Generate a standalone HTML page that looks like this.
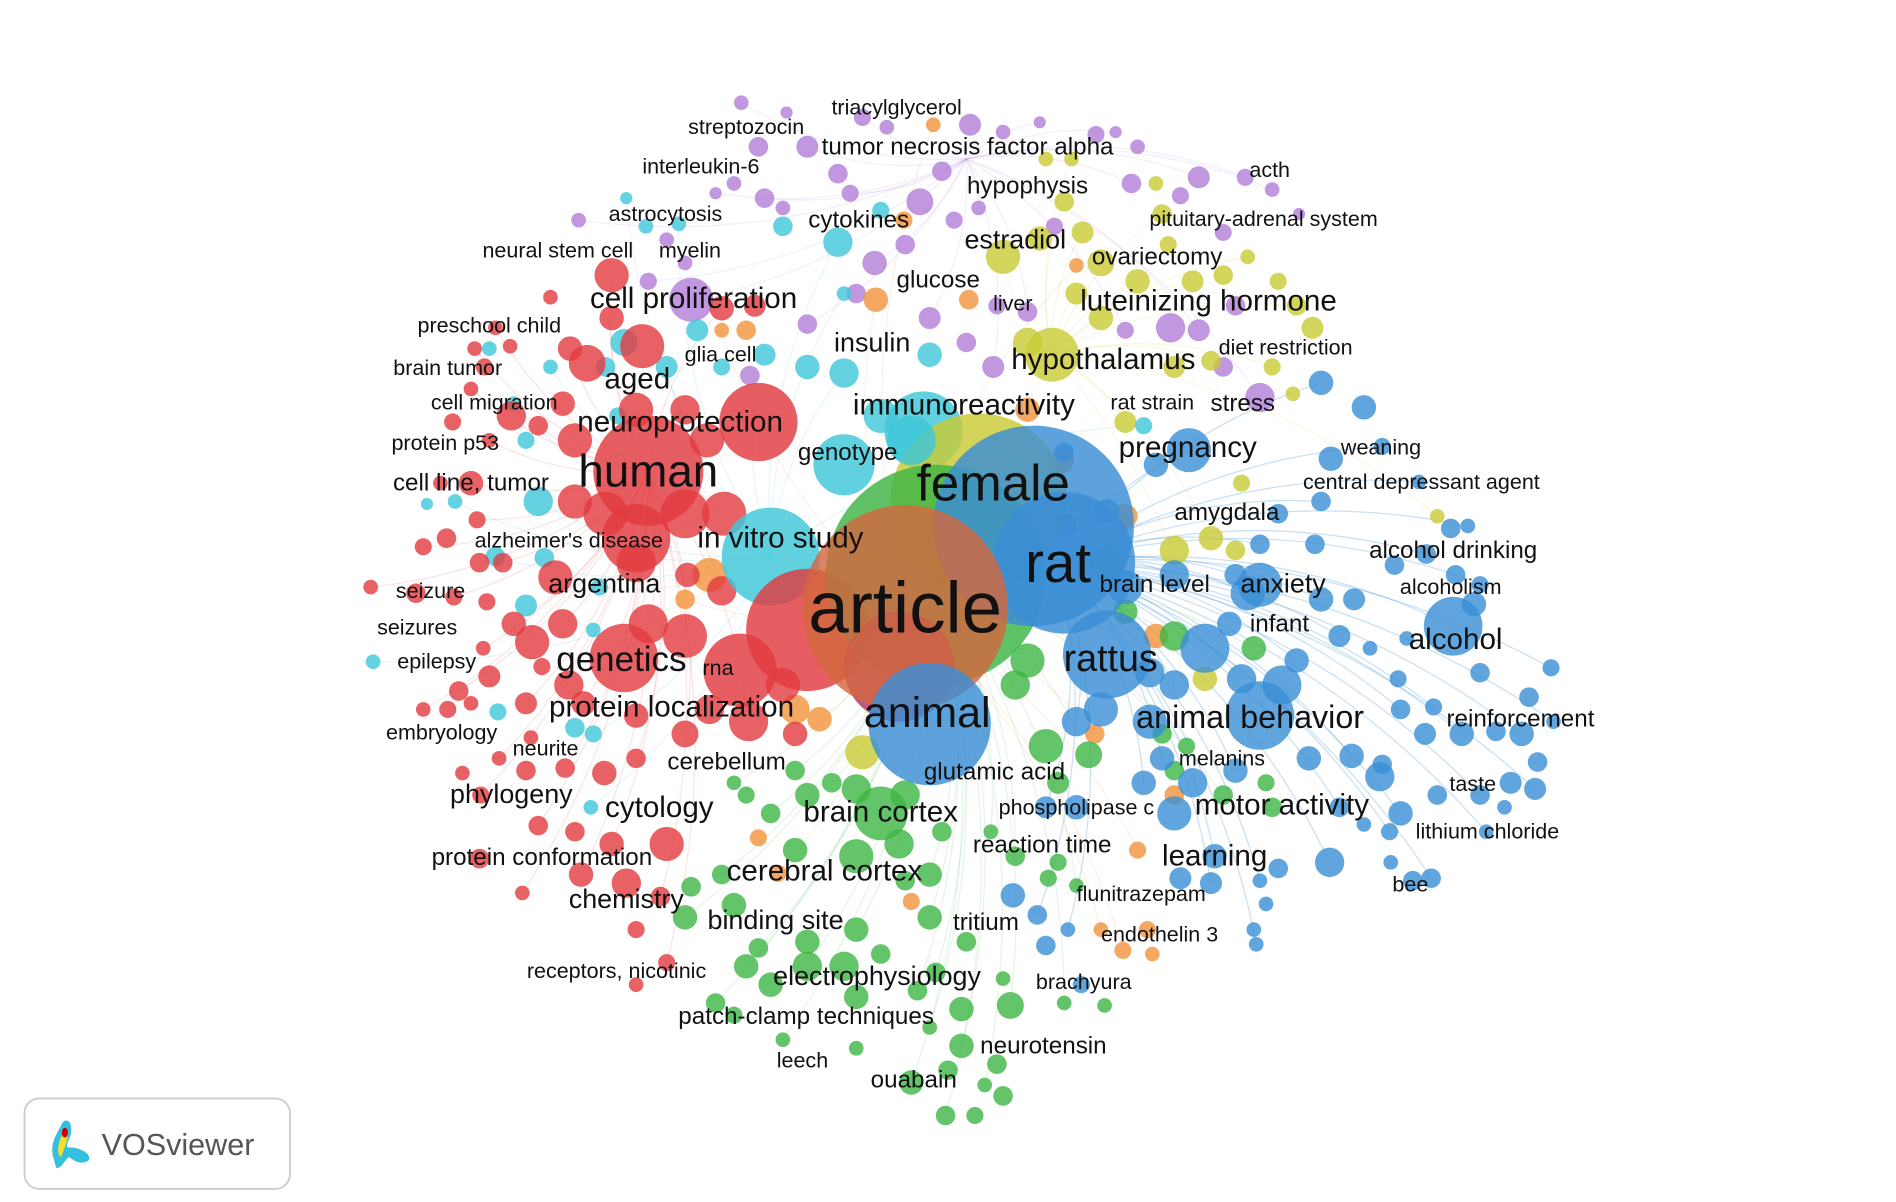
<!DOCTYPE html>
<html><head><meta charset="utf-8"><style>
html,body{margin:0;padding:0;background:#fff;width:1896px;height:1202px;overflow:hidden}
svg{display:block}
.lbl{font-family:"Liberation Sans","DejaVu Sans",sans-serif;fill:#111;text-anchor:middle;dominant-baseline:central}
</style></head><body>
<svg id="net" width="1896" height="1202" viewBox="0 0 1550 982.7" xmlns="http://www.w3.org/2000/svg">
<g id="edges"></g>
<g id="small"></g>
<g id="big"></g>
<g id="labels"></g>
<g>
<rect x="20" y="898" width="217" height="74" rx="12" fill="#fff" stroke="#ccc" stroke-width="1.5"/>
<path d="M44,948 C40,935 46,928 50,920 C52,914 58,915 58,922 C59,930 54,933 55,938 C58,938 62,938 66,940 C72,942 76,948 70,950 C64,952 60,948 56,946 C52,950 50,955 46,955 Z" fill="#35c0e0"/>
<path d="M48,944 C46,936 50,930 52,925 C54,922 56,926 55,931 C54,936 52,940 50,946 Z" fill="#f0e030"/>
<ellipse cx="53" cy="926" rx="2.5" ry="4" fill="#d00000"/>
<text x="83" y="936" font-family="Liberation Sans, sans-serif" font-size="25" fill="#555" dominant-baseline="central">VOSviewer</text>
</g>
</svg>
<script>
// cluster colours
const clusterColors = {r:"#e23b3f",g:"#3db544",b:"#3a8ed6",y:"#c9cb35",p:"#b27ed8",c:"#3ec7d9",o:"#f3923a",m:"#b0336a"};
// small unlabeled nodes per cluster: "x,y,r;..."
const purpleNodes = "606,84,6;643,92,5;705,96,7;725,104,6;793,102,9;820,108,6;850,100,5;896,110,7;912,108,5;620,120,8;660,120,9;685,142,8;695,158,7;640,170,6;625,162,8;600,150,6;585,158,5;752,165,11;770,140,8;780,180,7;800,170,6;740,200,8;715,215,10;700,240,8;760,260,9;790,280,8;812,300,9;930,120,6;925,150,8;965,160,7;980,145,9;1000,190,7;1018,145,7;1062,175,5;1040,155,6;957,268,12;980,270,9;1010,250,8;1030,325,12;1000,300,8;920,270,7;613,307,8;660,265,8;560,215,6;473,180,6;545,196,6;530,230,7;815,250,7;840,255,8;862,185,7;565,245,18";
const yellowNodes = "820,210,14;850,195,10;885,190,9;900,215,11;930,230,10;955,200,7;975,230,9;1000,225,8;1020,210,6;1045,230,7;1060,250,8;1073,268,9;1040,300,7;1057,322,6;990,295,8;960,300,9;880,240,9;900,260,10;870,165,8;855,130,6;876,130,6;840,280,12;950,175,8;945,150,6;1175,422,6;1010,450,8;990,440,10;960,450,12;985,555,10;705,615,14;920,345,9;1015,395,7;860,290,22";
const cyanNodes = "512,162,5;528,185,6;555,183,6;640,185,8;685,198,12;720,172,7;690,240,6;570,270,9;510,280,11;495,300,8;545,300,9;590,300,7;625,290,9;660,300,10;690,305,12;720,340,14;450,300,6;400,285,6;420,330,6;430,360,7;440,410,12;430,495,9;405,455,8;445,456,8;372,410,6;349,412,5;305,541,6;407,582,7;490,480,7;485,515,6;485,600,7;470,595,8;483,660,6;760,290,10;935,348,7;505,340,7";
const orangeNodes = "763,102,6;739,180,7;716,245,10;792,245,8;880,217,6;610,270,8;590,270,6;840,335,10;868,377,10;920,422,10;945,520,10;580,470,14;560,490,8;650,580,12;670,588,10;620,685,7;636,714,7;745,737,7;930,695,7;938,760,7;918,777,7;942,780,6;900,760,6;960,650,8;895,600,8";
const redNodes = "500,225,14;450,243,6;405,268,6;417,283,6;388,285,6;396,300,7;466,285,10;480,297,15;500,260,10;525,283,18;590,252,10;617,250,9;385,318,6;370,345,7;400,360,6;418,340,12;440,348,8;460,330,10;470,360,14;520,335,14;560,335,12;578,360,14;592,420,18;560,420,20;495,420,18;470,410,14;385,395,10;360,395,6;346,447,7;365,440,8;390,425,7;392,460,8;411,460,8;454,472,14;520,460,16;562,470,10;303,480,6;340,485,8;371,488,7;398,492,7;420,510,10;435,525,14;460,510,12;465,560,12;477,575,10;443,545,7;395,530,6;400,553,9;375,565,8;366,580,7;346,580,6;385,575,6;430,575,9;434,603,6;408,620,6;378,632,6;393,650,7;430,630,8;462,628,8;494,632,10;520,620,8;520,585,10;560,600,11;580,580,12;612,590,16;640,560,14;560,520,18;530,510,16;440,675,8;470,680,8;500,690,10;545,690,14;475,715,10;512,722,12;540,733,8;520,760,7;545,787,7;520,805,6;427,730,6;392,702,8;590,483,12;650,600,10;510,538,28";
const greenNodes = "650,630,8;660,650,10;680,640,8;700,645,12;740,650,12;650,695,10;630,665,8;610,650,7;600,640,6;700,700,14;735,690,12;770,680,8;760,715,10;740,720,8;590,715,8;565,725,8;560,750,10;600,740,10;620,775,8;660,770,10;700,760,10;720,780,8;760,750,10;790,770,8;660,790,12;690,790,12;610,790,10;630,805,10;585,820,8;600,830,7;640,850,6;700,815,10;750,810,8;786,825,10;826,822,11;820,800,6;870,820,6;903,822,6;760,840,6;700,857,6;786,855,10;815,870,8;745,885,10;775,875,8;805,887,6;820,896,8;773,912,8;797,912,7;810,680,6;865,705,7;880,724,6;857,718,7;830,700,8;865,640,9;890,617,11;855,610,14;830,560,12;840,540,14;920,500,10;905,460,14;960,520,12;950,600,8;970,610,7;960,630,8;1000,650,8;1040,660,8;1025,530,10;1035,640,7;765,795,8;720,665,22";
const blueNodes = "1080,313,10;1115,333,10;1130,365,7;1088,375,10;1160,394,6;1186,432,8;1166,453,8;1140,462,8;1080,410,8;1045,420,8;1030,445,8;1075,445,8;1020,485,14;1005,510,10;1080,490,10;1107,490,9;1095,520,9;1120,530,6;1060,540,10;1048,560,16;1015,555,12;985,530,20;960,560,12;940,590,14;950,620,10;975,640,12;1010,630,10;1070,620,10;1105,618,10;1128,635,12;1145,665,10;1175,650,8;1210,650,8;1235,640,9;1255,645,9;1257,623,8;1244,600,10;1223,598,8;1195,600,10;1165,600,9;1145,580,8;1143,555,7;1172,578,7;1210,550,8;1268,546,7;1250,570,8;1270,590,6;1230,660,6;1215,680,6;1155,720,8;1170,718,8;1137,705,6;1136,680,7;1115,674,6;1087,705,12;1045,710,8;1030,720,6;1025,760,6;1027,772,6;1035,739,6;990,722,9;965,718,9;993,700,10;960,665,14;935,640,10;880,660,10;855,660,9;828,732,10;848,748,8;855,773,8;873,760,6;884,805,7;1188,512,24;1205,494,10;1190,470,8;1150,522,6;1200,430,6;1130,625,8;1095,660,8;1210,478,7;920,480,14;900,580,14;880,590,12;940,550,12;870,430,10;905,418,10;870,370,8;945,380,10;972,368,18;1010,470,9;960,470,12;1030,585,28;1030,478,18";
// major overlapping nodes: cluster, x, y, r
const majorCluster = ["c","c","c","r","r","r","r","y","g","b","b","r","m","o","b","b","c"];
const majorX = [630,755,690,530,620,660,605,800,765,845,870,520,735,740,760,905,745];
const majorY = [455,352,380,385,345,515,548,410,470,430,460,440,545,497,592,535,360];
const majorR = [40,32,25,45,32,50,30,72,90,82,58,28,45,84,50,36,20];
// labels: text, x, y, font size
const labelText = ["triacylglycerol","streptozocin","tumor necrosis factor alpha","interleukin-6","acth","hypophysis","astrocytosis","cytokines","pituitary-adrenal system","estradiol","neural stem cell","myelin","ovariectomy","glucose","cell proliferation","luteinizing hormone","liver","preschool child","insulin","glia cell","diet restriction","hypothalamus","brain tumor","aged","cell migration","immunoreactivity","rat strain","stress","neuroprotection","protein p53","genotype","pregnancy","weaning","human","female","cell line, tumor","central depressant agent","amygdala","in vitro study","alzheimer's disease","alcohol drinking","rat","brain level","anxiety","alcoholism","argentina","seizure","article","infant","seizures","alcohol","genetics","rna","rattus","epilepsy","protein localization","animal","animal behavior","reinforcement","embryology","neurite","cerebellum","glutamic acid","melanins","taste","phylogeny","cytology","brain cortex","phospholipase c","motor activity","lithium chloride","reaction time","learning","protein conformation","cerebral cortex","bee","flunitrazepam","chemistry","binding site","tritium","endothelin 3","receptors, nicotinic","electrophysiology","brachyura","patch-clamp techniques","neurotensin","leech","ouabain"];
const labelX = [733,610,791,573,1038,840,544,702,1033,830,456,564,946,767,567,988,828,400,713,589,1051,902,366,521,404,788,942,1016,556,364,693,971,1129,530,812,385,1162,1003,638,465,1188,865,944,1049,1186,494,352,740,1046,341,1190,508,587,908,357,549,758,1022,1243,361,446,594,813,999,1204,418,539,720,880,1048,1216,852,993,443,674,1153,933,512,634,806,948,504,717,886,659,853,656,747];
const labelY = [88,104,120,136,139,152,175,180,179,196,205,205,210,229,244,246,248,266,280,290,284,294,301,310,329,331,329,330,345,362,370,366,366,385,395,395,394,419,440,442,450,460,478,477,480,477,483,497,510,513,523,539,546,538,541,578,583,586,588,599,612,623,631,620,641,649,660,664,660,658,680,691,700,701,712,723,731,735,752,754,764,794,798,803,831,855,867,883];
const labelSize = [16,16,18,16,16,18,16,18,16,20,16,16,18,18,22,22,16,16,20,16,16,22,16,22,16,22,16,18,22,16,18,22,16,34,38,18,16,18,22,16,18,42,18,20,16,20,16,54,18,16,22,26,16,28,16,22,32,24,18,16,16,18,18,16,16,20,22,22,16,22,16,18,22,18,22,16,16,20,20,18,16,16,20,16,18,18,16,18];

const NS="http://www.w3.org/2000/svg";
const edgesG=document.getElementById('edges'), smallG=document.getElementById('small'), bigG=document.getElementById('big'), labG=document.getElementById('labels');
function parse(s){return s.split(';').map(t=>t.split(',').map(Number));}
const groups=[["p",purpleNodes],["y",yellowNodes],["c",cyanNodes],["o",orangeNodes],["r",redNodes],["g",greenNodes],["b",blueNodes]];
const hubs={r:[530,385],g:[765,470],b:[865,460],y:[860,290],p:[790,130],c:[630,455],o:[740,497]};
groups.forEach(([k,s])=>{
  const h=hubs[k];
  parse(s).forEach((n,i)=>{
    if(i%2) return;
    const l=document.createElementNS(NS,'path');
    const mx=(n[0]+h[0])/2+(n[1]-h[1])*0.15, my=(n[1]+h[1])/2-(n[0]-h[0])*0.15;
    l.setAttribute('d',`M${n[0]},${n[1]} Q${mx},${my} ${h[0]},${h[1]}`);
    l.setAttribute('stroke',clusterColors[k]);l.setAttribute('stroke-opacity',k==='b'?0.28:0.14);
    l.setAttribute('fill','none');l.setAttribute('stroke-width',1);
    
    
    edgesG.appendChild(l);
  });
});
groups.forEach(([k,s])=>{
  parse(s).forEach(n=>{
    const c=document.createElementNS(NS,'circle');
    c.setAttribute('cx',n[0]);c.setAttribute('cy',n[1]);c.setAttribute('r',n[2]);
    c.setAttribute('fill',clusterColors[k]);c.setAttribute('fill-opacity',0.8);
    
    
    smallG.appendChild(c);
  });
});
majorX.forEach((x,i)=>{
  const c=document.createElementNS(NS,'circle');
  c.setAttribute('cx',x);c.setAttribute('cy',majorY[i]);c.setAttribute('r',majorR[i]);
  c.setAttribute('fill',majorCluster[i]==='o'?'#d3683f':clusterColors[majorCluster[i]]);
  c.setAttribute('fill-opacity',0.82);
  
  
  bigG.appendChild(c);
});
labelText.forEach((t,i)=>{
  const e=document.createElementNS(NS,'text');
  e.setAttribute('class','lbl');
  e.setAttribute('x',labelX[i]);e.setAttribute('y',labelY[i]);
  e.setAttribute('font-size',labelSize[i]*1.1);
  e.textContent=t;
  
  
  labG.appendChild(e);
});
</script>
</body></html>
